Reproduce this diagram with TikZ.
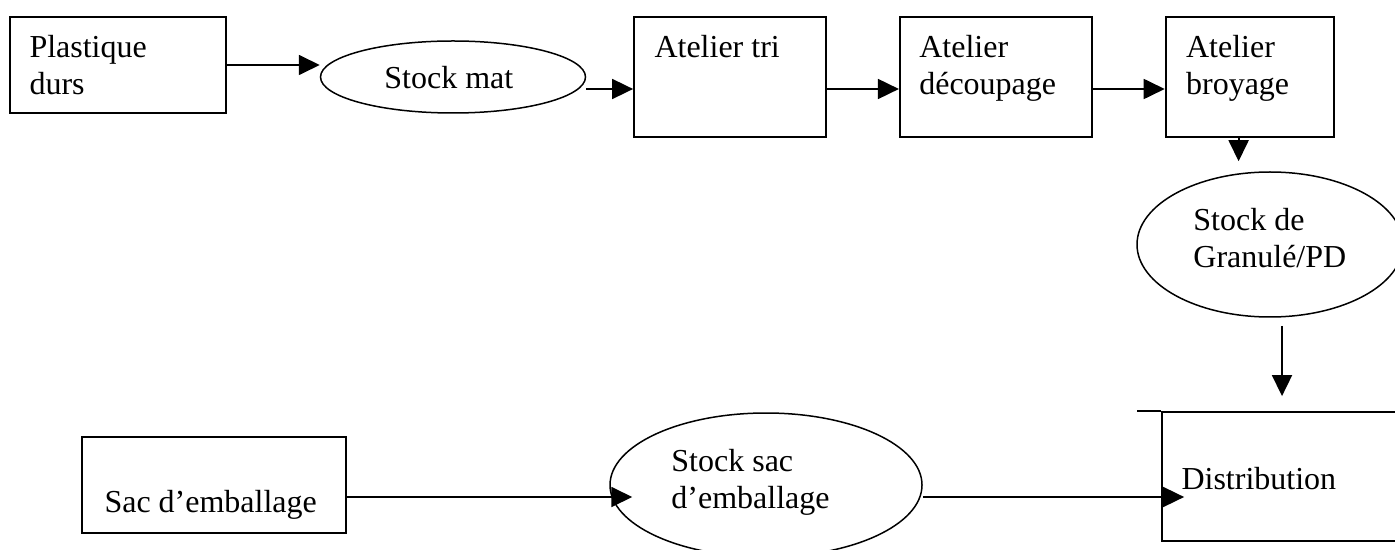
\documentclass[tikz,border=0pt]{standalone}
\usepackage{fontspec}
\setmainfont{Liberation Serif}
\usetikzlibrary{positioning,shapes.geometric,arrows.meta,calc}

\begin{document}
\begin{tikzpicture}[
      x=0.5pt, y=-0.5pt,
      node distance=36pt,
      every node/.style={font=\fontsize{16}{18.5}\selectfont},
      box/.style={draw, line width=0.9pt, inner sep=0pt},
      stock/.style={ellipse, draw, line width=0.75pt, inner sep=0pt},
      txt/.style={anchor=base west, align=left, inner sep=0pt},
      arrow/.style={-{Triangle[length=10.5pt,width=10pt]}, line width=0.9pt}
    ]
    \useasboundingbox (0,0) rectangle (1395,550);
    \clip (0,0) rectangle (1395,550);

    \node[box, minimum width=108pt, minimum height=48pt] (plast) at (118,65) {};
    \node[stock, minimum width=132.5pt, minimum height=36pt] (smat) at (453,77) {};
    \node[box, minimum width=96pt, minimum height=60pt] (tri) at (730,77) {};
    \node[box, minimum width=96pt, minimum height=60pt, right=of tri] (decoup) {};
    \node[box, minimum width=84pt, minimum height=60pt, right=of decoup] (broy) {};
    \node[stock, minimum width=133pt, minimum height=72.5pt] (gran) at (1270,244.5) {};
    \node[box, minimum width=129pt, minimum height=64.5pt] (dist) at (1291,476.5) {};
    \node[box, minimum width=132pt, minimum height=48pt] (sac) at (214,485) {};
    \node[stock, minimum width=156pt, minimum height=72pt] (ssac) at (766,485) {};

    \node[txt] (plastT) at ($(plast.north west)+(20,78)$) {Plastique\\durs};
    \node[txt] (smatT) at ($(smat.center)+(-69,12)$) {Stock mat};
    \node[txt] (triT) at ($(tri.north west)+(21,41)$) {Atelier tri};
    \node[txt] (decoupT) at ($(decoup.north west)+(20,78)$) {Atelier\\découpage};
    \node[txt] (broyT) at ($(broy.north west)+(21,78)$) {Atelier\\broyage};
    \node[txt] (granT) at ($(gran.center)+(-77,23.5)$) {Stock de\\Granulé/PD};
    \node[txt] (distT) at ($(dist.north west)+(20,78)$) {Distribution};
    \node[txt] (sacT) at ($(sac.north west)+(23,76)$) {Sac d’emballage};
    \node[txt] (ssacT) at ($(ssac.center)+(-95,23)$) {Stock sac\\d’emballage};

    \draw[line width=0.9pt] (dist.north west) -- ++(-24,0);

    \draw[arrow] (plast.east) -- (plast.east -| smat.west);
    \draw[arrow] ([yshift=-6pt]smat.east) -- ([yshift=-6pt]tri.west);
    \draw[arrow] ([yshift=-6pt]tri.east) -- ([yshift=-6pt]decoup.west);
    \draw[arrow] ([yshift=-6pt]decoup.east) -- ([yshift=-6pt]broy.west);
    \draw[arrow, shorten >=5pt] ([xshift=-5.5pt]broy.south) -- ([xshift=-5.5pt]broy.south |- gran.north);
    \draw[arrow, shorten <=4pt, shorten >=7.5pt] ([xshift=6pt]gran.south) -- ([xshift=6pt]gran.south |- dist.north);
    \draw[arrow, shorten >=-11.5pt] ([yshift=-6pt]sac.east) -- ([yshift=-6pt]sac.east -| ssac.west);
    \draw[arrow, shorten >=-11.5pt] ([yshift=-6pt]ssac.east) -- ([yshift=-6pt]ssac.east -| dist.west);
  \end{tikzpicture}
\end{document}
